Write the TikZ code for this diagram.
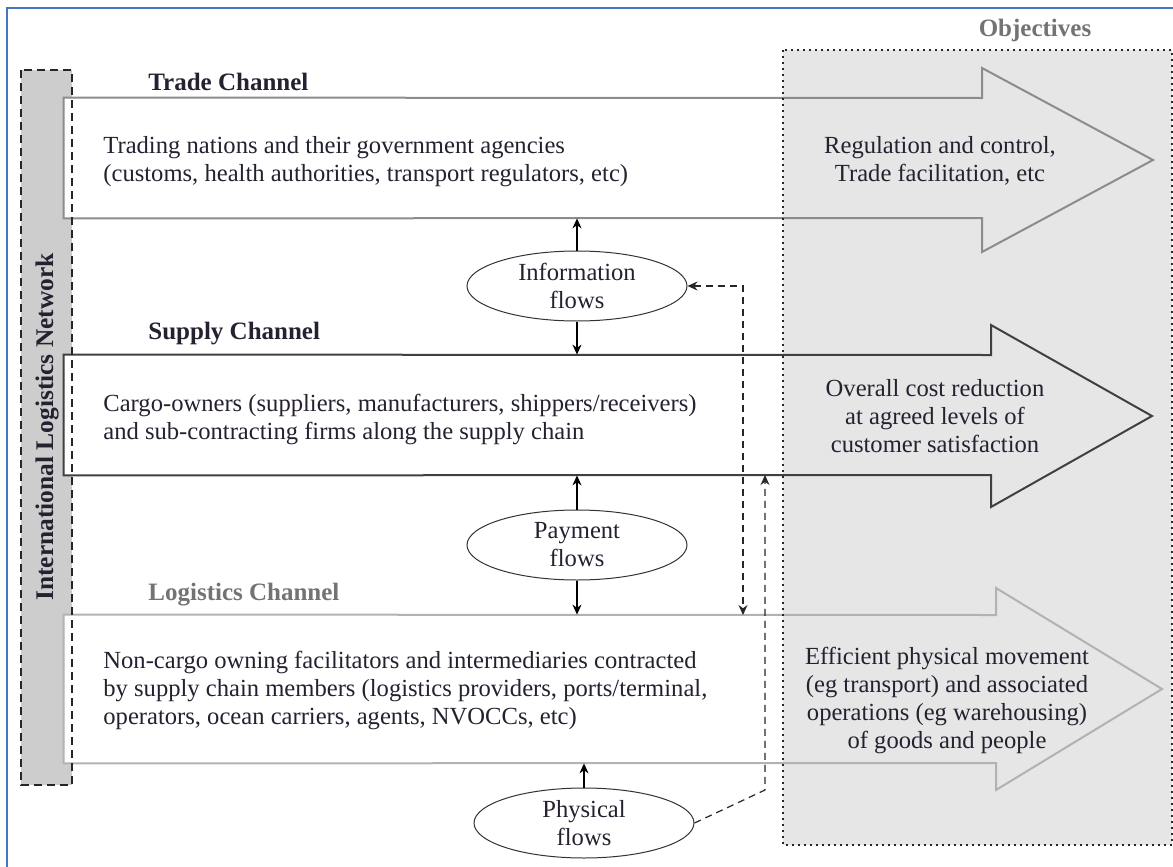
\documentclass[tikz,border=0pt]{standalone}
\usepackage{fontspec}
\setmainfont{Liberation Serif}
\usetikzlibrary{shapes,arrows,arrows.meta,positioning}

\definecolor{objgray}{RGB}{230,230,230}
\definecolor{netgray}{RGB}{205,205,205}
\definecolor{frameblue}{RGB}{70,116,198}
\definecolor{txtdark}{RGB}{38,32,48}

\begin{document}
\begin{tikzpicture}[x=0.5pt,y=-0.5pt,>={Stealth[length=5pt,width=4.5pt]},font=\fontsize{12.3}{14}\selectfont,text=txtdark]
\tikzstyle{chbody} = [rectangle, fill=white, inner sep=0pt, minimum width=359.5pt]
\tikzstyle{chtext} = [anchor=west, align=left, inner sep=0pt]
\tikzstyle{objtext} = [align=center, inner sep=0pt]
\tikzstyle{title} = [anchor=west, inner sep=0pt, font=\fontsize{12.5}{14}\selectfont\bfseries]
\tikzstyle{flow} = [ellipse, draw=black!80, line width=0.5pt, minimum width=110pt, minimum height=35pt, inner sep=0pt]
\tikzstyle{flowline} = [->, line width=0.6pt, black]
\tikzstyle{dashflow} = [line width=0.6pt, black!85, dash pattern=on 3.5pt off 2.5pt]
\useasboundingbox (0,0) rectangle (1173,867);

% frame
\draw[frameblue, line width=1pt] (7,870) -- (7,8) -- (1176,8);

% objectives and network backgrounds
\fill[objgray] (783,50) rectangle (1172,845);
\fill[netgray] (21,70) rectangle (72,785);

% channel bodies
\node[chbody, minimum height=60pt] (trade) at (423.5,158) {};
\node[chbody, minimum height=60pt] (supply) at (423.5,415) {};
\node[chbody, minimum height=74pt] (logi) at (423.5,689) {};

% channel arrows
\draw[black!45, line width=1pt] (trade.north west) -- (982,98) -- (982,68) -- (1153,160)
   -- (982,252) -- (982,218) -- (trade.south west) -- cycle;
\draw[black!75, line width=1pt] (supply.north west) -- (991,355) -- (991,325) -- (1152,416)
   -- (991,507) -- (991,475) -- (supply.south west) -- cycle;
\draw[black!30, line width=1pt] (logi.north west) -- (996,615) -- (996,588) -- (1162,689)
   -- (996,790) -- (996,763) -- (logi.south west) -- cycle;

% borders on top
\draw[black!85, line width=1pt, dash pattern=on 4pt off 2.5pt] (21,70) rectangle (72,785);
\draw[black!85, line width=1pt, dash pattern=on 1pt off 2pt] (783,50) rectangle (1172,845);

\node[rotate=90, inner sep=0pt, font=\fontsize{12.7}{14}\selectfont\bfseries] (netlbl) at (47,427) {International Logistics Network};
\node[inner sep=0pt, text=black!55, font=\fontsize{12.5}{14}\selectfont\bfseries] (objlbl) at (1035,30) {Objectives};

% titles
\node[title] (tradett) at (148,82) {Trade Channel};
\node[title] (supplytt) at (148,334) {Supply Channel};
\node[title, text=black!55] (logitt) at (148,595) {Logistics Channel};

% channel texts
\node[chtext] (tradetxt) at (103,162) {Trading nations and their government agencies\\(customs, health authorities, transport regulators, etc)};
\node[chtext] (supplytxt) at (103,419) {Cargo-owners (suppliers, manufacturers, shippers/receivers)\\and sub-contracting firms along the supply chain};
\node[chtext] (logitxt) at (103,690) {Non-cargo owning facilitators and intermediaries contracted\\by supply chain members (logistics providers, ports/terminal,\\operators, ocean carriers, agents, NVOCCs, etc)};

% objectives texts
\node[objtext] (tradeobj) at (940,161) {Regulation and control,\\Trade facilitation, etc};
\node[objtext] (supplyobj) at (935,416) {Overall cost reduction\\at agreed levels of\\customer satisfaction};
\node[objtext] (logiobj) at (947,700) {Efficient physical movement\\(eg transport) and associated\\operations (eg warehousing)\\of goods and people};

% flows
\node[flow, label={[align=center, inner sep=0pt]center:Information\\flows}] (info) at (577,286) {};
\node[flow, label={[align=center, inner sep=0pt]center:Payment\\flows}] (pay) at (577,545) {};
\node[flow, label={[align=center, inner sep=0pt]center:Physical\\flows}] (phys) at (584,823) {};

\coordinate (infodrop) at (743,615);
\coordinate (physbend) at (765,790);
\coordinate (physup) at (765,475);

\draw[flowline] (info.north) -- (info.north |- trade.south);
\draw[flowline] (info.south) -- (info.south |- supply.north);
\draw[flowline] (pay.north) -- (pay.north |- supply.south);
\draw[flowline] (pay.south) -- (pay.south |- logi.north);
\draw[flowline] (phys.north) -- (phys.north |- logi.south);
\draw[dashflow, <->] (info.east) -| (infodrop);
\draw[dashflow, ->] (phys.east) -- (physbend) -- (physup);
\end{tikzpicture}
\end{document}
